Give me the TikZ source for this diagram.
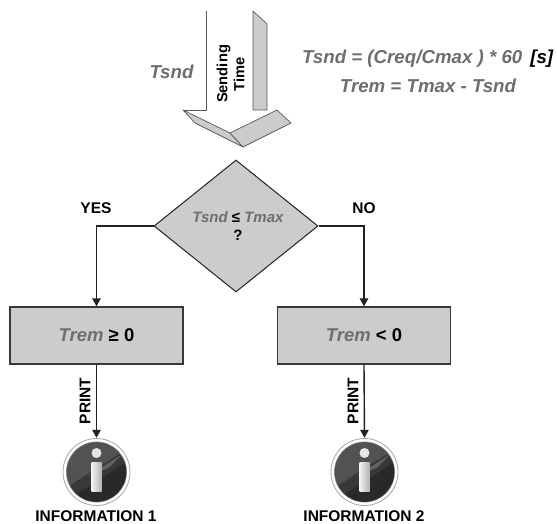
\documentclass[tikz,border=0pt]{standalone}
\usepackage{fontspec}
\setmainfont{Liberation Sans}
\usetikzlibrary{shapes.geometric,arrows.meta}
\definecolor{boxgray}{HTML}{CCCCCC}
\definecolor{txtgray}{HTML}{6E6E6E}
\definecolor{linedark}{HTML}{222222}
\tikzset{
  fold/.style={fill=boxgray,draw=black!65,line width=0.7pt,line join=round},
  flow/.style={draw=linedark,line width=1.4pt,-{Triangle[length=8pt,width=8.5pt]}},
  decision/.style={shape=diamond,draw=linedark,line width=1pt,fill=boxgray,minimum width=164pt,minimum height=132pt,inner sep=0pt,aspect=1.24},
  result/.style={shape=rectangle,draw=linedark!90,line width=1.4pt,fill=boxgray,minimum width=173pt,minimum height=57pt,inner sep=0pt},
  label text/.style={font=\bfseries\fontsize{15.5}{18}\selectfont,text=black,inner sep=0pt},
  var text/.style={font=\bfseries\itshape\fontsize{18.7}{22}\selectfont,text=txtgray,inner sep=0pt},
  big text/.style={font=\bfseries\fontsize{18.5}{21}\selectfont,inner sep=0pt},
  info/.style={shape=circle,minimum size=68pt,inner sep=0pt},
}
\newcommand{\infoicon}[1]{%
  \begin{scope}[shift={(#1)}]
  \draw[black!35,line width=0.8pt,fill=white] (0,0) circle (33.5);
  \draw[black!45,line width=0.8pt,fill=black!78] (0,0) circle (30);
  \begin{scope}
    \clip (0,0) circle (29.6);
    \fill[black!68] (-32,-32) rectangle (32,14);
    \fill[black!78] (-32,17) -- (32,-24) -- (32,32) -- (-32,32) -- cycle;
    \fill[black!62] (-8,4) -- (26,-18) -- (32,-24) -- (12,-4) -- cycle;
    \fill[black!84] (-32,30) -- (30,-10) -- (32,32) -- cycle;
  \end{scope}
  \fill[white!90!black] (0,-19) circle (5);
  \shade[left color=white!95!black,right color=white!70!black] (-5,-10) rectangle (5,19);
  \end{scope}
}
\begin{document}
\begin{tikzpicture}[x=1pt,y=-1pt]
\useasboundingbox (0,0) rectangle (557,524);
% sending-time arrow
\path[fold] (253,11) -- (267,24) -- (267,110) -- (253,110) -- cycle;
\path[fold] (183,110) -- (195,123) -- (243,147) -- (230,133) -- cycle;
\path[fold] (230,133) -- (243,147) -- (291,123) -- (277,110) -- cycle;
\draw[black!65,line width=0.7pt,line join=round] (206.5,11) -- (206.5,110) -- (183,110);
\node[rotate=90,font=\bfseries\fontsize{14.7}{17}\selectfont,align=center,inner sep=0pt] (sending) at (230.5,74) {Sending\\Time};
\node[var text] (tsndlabel) at (171.5,72) {Tsnd};
\node[var text,anchor=west] (eq1) at (302,59) {Tsnd = (Creq/Cmax ) * 60\hspace{8pt}{\color{black}[s]}};
\node[var text] (eq2) at (428,86) {Trem = Tmax - Tsnd};
% flow
\node[decision] (dec) at (236,226) {};
\node[align=center,inner sep=0pt,font=\bfseries\fontsize{15}{18}\selectfont] (dectext) at (238,226) {{\itshape\color{txtgray} Tsnd} ≤ {\itshape\color{txtgray} Tmax}\\?};
\node[result,big text] (left) at (96.5,335.5) {{\itshape\color{txtgray} Trem} ≥ 0};
\node[result,big text] (right) at (364,335.5) {{\itshape\color{txtgray} Trem} < 0};
\infoicon{96.5,472}
\infoicon{364.5,472}
\node[info] (iconL) at (96.5,472) {};
\node[info] (iconR) at (364.5,472) {};
\draw[flow] (dec.west) -| (left.north);
\draw[flow] (dec.east) -| (right.north);
\draw[flow] (left.south) -- (iconL.north);
\draw[flow] (right.south) -- (iconR.north);
\node[label text] (yes) at (96,208) {YES};
\node[label text] (no) at (364,208) {NO};
\node[label text,rotate=90] (p1) at (85,401) {PRINT};
\node[label text,rotate=90] (p2) at (353,401) {PRINT};
\node[label text] (i1) at (96,516) {INFORMATION 1};
\node[label text] (i2) at (364,516) {INFORMATION 2};
\end{tikzpicture}
\end{document}
